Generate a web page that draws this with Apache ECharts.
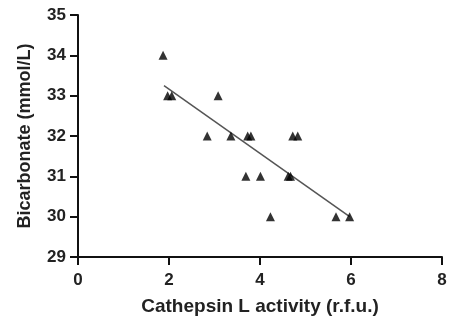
<!DOCTYPE html>
<html><head><meta charset="utf-8">
<script src="https://cdn.jsdelivr.net/npm/echarts@6/dist/echarts.min.js"></script>
<style>html,body{margin:0;padding:0;background:#fff}#c{width:451px;height:331px}</style>
</head><body><div id="c"></div>
<script>
const activity = [1.87, 1.97, 2.06, 3.08, 2.84, 3.36, 3.73, 3.80, 4.72, 4.83, 3.69, 4.01, 4.62, 4.67, 4.23, 5.67, 5.97];
const bicarbonate = [34, 33, 33, 33, 32, 32, 32, 32, 32, 32, 31, 31, 31, 31, 30, 30, 30];
const fitX = [1.89, 5.97];
const fitY = [33.25, 30.0];
const xTicks = [0, 2, 4, 6, 8];
const yTicks = [29, 30, 31, 32, 33, 34, 35];

const pts = activity.map((x, i) => [x, bicarbonate[i]]);
const fit = fitX.map((x, i) => [x, fitY[i]]);
const font = 'Liberation Sans, Arial, sans-serif';
const chart = echarts.init(document.getElementById('c'));
chart.setOption({
  animation: false,
  grid: {left: 78, right: 9, top: 15, bottom: 74},
  xAxis: {
    type: 'value', min: xTicks[0], max: xTicks[xTicks.length - 1], interval: 2,
    name: 'Cathepsin L activity (r.f.u.)', nameLocation: 'middle', nameGap: 40,
    nameTextStyle: {fontFamily: font, fontWeight: 'bold', fontSize: 19, color: '#222'},
    axisLine: {lineStyle: {color: '#111', width: 2}},
    axisTick: {show: true, length: 8, lineStyle: {color: '#111', width: 2}},
    axisLabel: {fontFamily: font, fontWeight: 'bold', fontSize: 17, color: '#222', margin: 15},
    splitLine: {show: false}
  },
  yAxis: {
    type: 'value', min: yTicks[0], max: yTicks[yTicks.length - 1], interval: 1,
    name: 'Bicarbonate (mmol/L)', nameLocation: 'middle', nameGap: 44, nameRotate: 90,
    nameTextStyle: {fontFamily: font, fontWeight: 'bold', fontSize: 18, color: '#222'},
    axisLine: {show: true, lineStyle: {color: '#111', width: 2}},
    axisTick: {show: true, length: 8, lineStyle: {color: '#111', width: 2}},
    axisLabel: {fontFamily: font, fontWeight: 'bold', fontSize: 17, color: '#222', margin: 12},
    splitLine: {show: false}
  },
  series: [
    {type: 'line', data: fit, symbol: 'none', lineStyle: {color: '#555', width: 1.5}, z: 1},
    {type: 'scatter', data: pts, symbol: 'triangle', symbolSize: 9, itemStyle: {color: '#000'}, z: 2}
  ]
});
</script></body></html>
